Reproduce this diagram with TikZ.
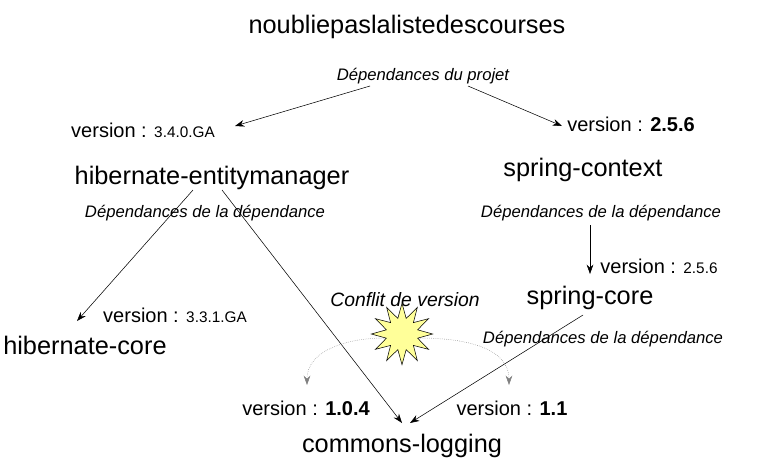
\documentclass[tikz,border=0pt]{standalone}
\usepackage{fontspec}
\setmainfont{Liberation Sans}
\usepackage{tikz}
\usetikzlibrary{shapes.geometric, arrows.meta}
\definecolor{starfill}{rgb}{1.0, 1.0, 0.6}
\tikzset{
  art/.style={font=\fontsize{19}{19}\selectfont, inner sep=0pt},
  dep/.style={font=\itshape\fontsize{12.5}{12.5}\selectfont, inner sep=0pt},
  ver/.style={font=\fontsize{15}{15}\selectfont, inner sep=0pt},
  link/.style={-{Stealth[length=7pt, width=5pt]}, thin},
}
\newcommand{\vnum}[1]{{\fontsize{11.5}{11.5}\selectfont #1}}
\newcommand{\vbold}[1]{{\fontsize{15}{15}\selectfont\bfseries #1}}

\begin{document}
\begin{tikzpicture}[x=0.75pt, y=-0.75pt]
  \useasboundingbox (0,0) rectangle (768,472);

  % artefacts
  \node[art] (root) at (407,27) {noubliepaslalistedescourses};
  \node[art] (hem) at (212,178) {hibernate-entitymanager};
  \node[art] (sctx) at (583,170) {spring-context};
  \node[art] (score) at (590,298) {spring-core};
  \node[art, anchor=west] (hcore) at (3,345) {hibernate-core};
  \node[art] (clog) at (402,446) {commons-logging};

  % labels
  \node[dep] (dproj) at (423,76) {Dépendances du projet};
  \node[dep] (dhem) at (205,213) {Dépendances de la dépendance};
  \node[dep] (dsctx) at (601,213) {Dépendances de la dépendance};
  \node[dep] (dscore) at (603,339) {Dépendances de la dépendance};
  \node[ver] (v1) at (143,130) {version : \vnum{3.4.0.GA}};
  \node[ver] (v2) at (631,124) {version : \vbold{2.5.6}};
  \node[ver] (v3) at (659,266) {version : \vnum{2.5.6}};
  \node[ver] (v4) at (175,315) {version : \vnum{3.3.1.GA}};
  \node[ver] (v5) at (306,408) {version : \vbold{1.0.4}};
  \node[ver] (v6) at (512,408) {version : \vbold{1.1}};
  \node[dep, font=\itshape\fontsize{14.5}{14.5}\selectfont] (conflit) at (405,300) {Conflit de version};

  % conflict
  \node[star, star points=12, star point ratio=1.9, draw, fill=starfill,
        minimum size=46pt, inner sep=0pt] (boom) at (402,334) {};

  % end points
  \coordinate (r1) at (370,86);   \coordinate (r1e) at (235,126);
  \coordinate (r2) at (468,86);   \coordinate (r2e) at (562,126);
  \coordinate (h1) at (193,190);  \coordinate (h1e) at (77,321);
  \coordinate (h2) at (222,190);  \coordinate (c1) at (402,423);
  \coordinate (s1) at (590,225);  \coordinate (s1e) at (590,274);
  \coordinate (s2) at (583,315);  \coordinate (c2) at (410,423);
  \coordinate (b1) at (384,338);  \coordinate (b1e) at (307,385);
  \coordinate (b2) at (420,338);  \coordinate (b2e) at (509,385);

  \draw[link] (r1) -- (r1e);
  \draw[link] (r2) -- (r2e);
  \draw[link] (h1) -- (h1e);
  \draw[link] (h2) -- (c1);
  \draw[link] (s1) -- (s1e);
  \draw[link] (s2) -- (c2);
  \draw[link, densely dotted, gray] (b1) to[out=180, in=90] (b1e);
  \draw[link, densely dotted, gray] (b2) to[out=0, in=90] (b2e);
\end{tikzpicture}
\end{document}
